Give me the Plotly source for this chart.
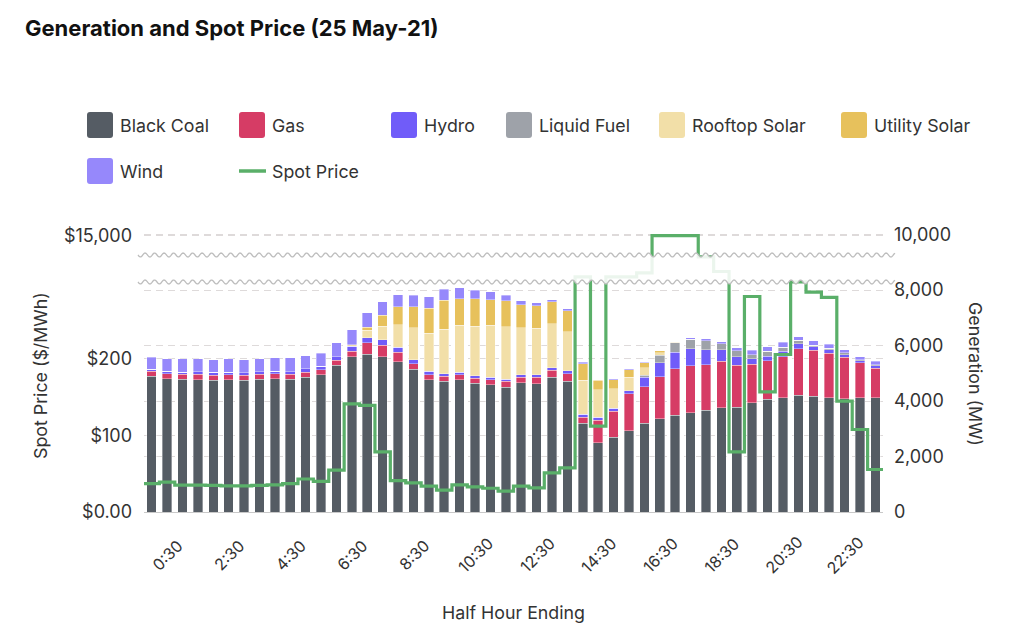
import math
import plotly.graph_objects as go

# ---------------- data ----------------
time_labels = ["0:30", "1:00", "1:30", "2:00", "2:30", "3:00", "3:30", "4:00", "4:30", "5:00",
               "5:30", "6:00", "6:30", "7:00", "7:30", "8:00", "8:30", "9:00", "9:30", "10:00",
               "10:30", "11:00", "11:30", "12:00", "12:30", "13:00", "13:30", "14:00", "14:30", "15:00",
               "15:30", "16:00", "16:30", "17:00", "17:30", "18:00", "18:30", "19:00", "19:30", "20:00",
               "20:30", "21:00", "21:30", "22:00", "22:30", "23:00", "23:30", "0:00"]

black_coal = [4890, 4800, 4790, 4775, 4750, 4775, 4750, 4785, 4810, 4785,
              4860, 4940, 5290, 5590, 5690, 5590, 5410, 5145, 4775, 4715,
              4775, 4640, 4580, 4500, 4665, 4630, 4860, 4715, 3190, 2505,
              2695, 2935, 3200, 3355, 3490, 3575, 3670, 3755, 3775, 3945,
              4065, 4115, 4210, 4175, 4115, 4090, 4115, 4115]
gas = [190, 190, 180, 190, 180, 180, 180, 180, 170, 180,
       180, 190, 180, 205, 410, 420, 350, 190, 170, 180,
       170, 180, 190, 205, 190, 230, 250, 265, 230, 795,
       935, 1320, 1310, 1525, 1670, 1695, 1635, 1670, 1515, 1380,
       1395, 1475, 1680, 1655, 1610, 1490, 1260, 1070]
hydro = [70, 85, 70, 95, 110, 85, 85, 85, 95, 85,
         120, 120, 120, 180, 180, 205, 180, 145, 120, 85,
         85, 85, 85, 85, 85, 85, 95, 110, 110, 120,
         110, 120, 350, 505, 600, 615, 550, 420, 300, 190,
         155, 205, 170, 130, 120, 95, 85, 95]
liquid_fuel = [0, 0, 0, 0, 0, 0, 0, 0, 0, 0,
               0, 0, 0, 0, 0, 0, 0, 0, 0, 0,
               0, 0, 0, 0, 0, 0, 0, 0, 0, 0,
               0, 0, 60, 265, 335, 335, 325, 215, 230, 155,
               170, 145, 130, 50, 50, 60, 35, 35]
rooftop_solar = [0, 0, 0, 0, 0, 0, 0, 0, 0, 0,
                 0, 0, 0, 60, 265, 480, 815, 1155, 1380, 1610,
                 1705, 1790, 1885, 1885, 1695, 1680, 1585, 1415, 1215, 985,
                 710, 480, 275, 85, 25, 0, 0, 0, 0, 0,
                 0, 0, 0, 0, 0, 0, 0, 0]
utility_solar = [0, 0, 0, 0, 0, 0, 0, 0, 0, 0,
                 0, 0, 0, 0, 120, 395, 635, 755, 900, 1045,
                 960, 995, 915, 935, 840, 815, 795, 745, 600, 335,
                 325, 275, 190, 85, 15, 0, 0, 0, 0, 0,
                 0, 0, 0, 0, 0, 0, 0, 0]
wind = [420, 445, 480, 455, 455, 480, 480, 480, 490, 515,
        480, 470, 515, 530, 515, 480, 445, 430, 410, 385,
        385, 310, 275, 205, 145, 95, 60, 70, 50, 25,
        25, 35, 15, 0, 0, 60, 60, 70, 95, 155,
        170, 180, 120, 155, 145, 120, 95, 120]

spot_price = [37, 39, 35, 35, 34.6, 34, 34, 34.6, 35.4, 37,
              43, 40, 54.5, 141, 139, 78.5, 41, 38, 33.7, 28.4,
              35.4, 32.8, 31, 27.1, 33.7, 31.5, 51, 57.6, 1900, 112,
              1900, 1900, 3200, 15000, 15000, 15000, 8250, 3600, 78.5, 281,
              156.7, 205.4, 300, 286.6, 280, 144.5, 107.6, 55.4]

series_names = ["Black Coal", "Gas", "Hydro", "Liquid Fuel", "Rooftop Solar", "Utility Solar", "Wind"]
series_values = [black_coal, gas, hydro, liquid_fuel, rooftop_solar, utility_solar, wind]
series_colors = ["#555c64", "#d63c65", "#705cf9", "#9ea2a9", "#f2dfa8", "#e7c15c", "#9688fb"]
price_name = "Spot Price"
price_color = "#5aaf69"

gen_ticks = [0, 2000, 4000, 6000, 8000, 10000]
price_ticks = [0, 100, 200, 15000]
price_tick_text = ["$0.00", "$100", "$200", "$15,000"]

# ---------------- broken price scale ----------------
GEN_MAX = 10200          # axis range (MW units) shared by both y axes
LOW_SCALE = 27.64        # axis units per $ in the low segment
BREAK_PRICE = 300        # price at the lower break
CAP_PRICE = 15000
T_BREAK = BREAK_PRICE * LOW_SCALE
T_CAP = 9964


def price_to_axis(p):
    if p <= BREAK_PRICE:
        return p * LOW_SCALE
    return T_BREAK + (p - BREAK_PRICE) / (CAP_PRICE - BREAK_PRICE) * (T_CAP - T_BREAK)


# ---------------- geometry (pixels; page has an 8px body margin) ----------------
OFF = 8
W, H = 1016, 634
ML, MR, MT, MB = 136, 141, 221, 130
PW, PH = W - ML - MR, H - MT - MB


def px(x):
    """screen x (reference pixels) -> paper fraction"""
    return (x - OFF - ML) / PW


def py(y):
    """screen y (reference pixels) -> paper fraction"""
    return (H - MB - (y - OFF)) / PH


FONT = "Inter"
TXT = "#333333"
FS = 17.8

fig = go.Figure()
n = len(time_labels)
xs = list(range(n))

for name, vals, col in zip(series_names, series_values, series_colors):
    fig.add_trace(go.Bar(
        x=xs, y=vals, name=name, marker_color=col,
        marker_line_color="rgba(255,255,255,0.45)", marker_line_width=0.8,
        yaxis="y", showlegend=False,
    ))

# step line: each price spans its whole half-hour slot
step_x = [i - 0.5 for i in xs] + [xs[-1] + 0.5]
step_y = [price_to_axis(p) for p in spot_price] + [price_to_axis(spot_price[-1])]
fig.add_trace(go.Scatter(
    x=step_x, y=step_y, mode="lines", line_shape="hv",
    line=dict(color=price_color, width=3.2), name=price_name,
    yaxis="y2", showlegend=False,
))

# ---------------- broken-axis band (wavy lines) ----------------
def wave(y0, x_start=138, x_end=895, amp=2.0, period=9.5):
    pts = []
    x = x_start
    while x <= x_end:
        pts.append((x, y0 + amp * math.sin(2 * math.pi * (x - x_start) / period)))
        x += 1
    return pts

upper = wave(255)
lower = wave(282)
band = upper + lower[::-1]
band_path = "M " + " L ".join(f"{px(a):.5f},{py(b):.5f}" for a, b in band) + " Z"
shapes = [dict(type="path", xref="paper", yref="paper", path=band_path,
               fillcolor="rgba(255,255,255,0.88)", line=dict(width=0), layer="above")]
for w in (upper, lower):
    p = "M " + " L ".join(f"{px(a):.5f},{py(b):.5f}" for a, b in w)
    shapes.append(dict(type="path", xref="paper", yref="paper", path=p,
                       line=dict(color="#bdbdbd", width=1.3), layer="above"))

# ---------------- custom legend ----------------
def rounded_square(h=13, r=3):
    return (f"M {-h + r},{-h} L {h - r},{-h} Q {h},{-h} {h},{-h + r} L {h},{h - r} "
            f"Q {h},{h} {h - r},{h} L {-h + r},{h} Q {-h},{h} {-h},{h - r} "
            f"L {-h},{-h + r} Q {-h},{-h} {-h + r},{-h} Z")

legend_slots = [(87, 125), (239, 125), (391, 125), (506, 125), (659, 125), (841, 125), (87, 171)]
annotations = []
for (sx, sy), name, col in zip(legend_slots, series_names, series_colors):
    shapes.append(dict(type="path", xref="paper", yref="paper",
                       xsizemode="pixel", ysizemode="pixel",
                       xanchor=px(sx + 13), yanchor=py(sy),
                       path=rounded_square(), fillcolor=col, line=dict(width=0)))
    annotations.append(dict(text=name, xref="paper", yref="paper", x=px(sx + 31), y=py(sy),
                            xanchor="left", yanchor="middle", showarrow=False,
                            font=dict(family=FONT, size=FS, color=TXT)))
# spot price legend entry
shapes.append(dict(type="line", xref="paper", yref="paper",
                   x0=px(239), x1=px(266), y0=py(171), y1=py(171),
                   line=dict(color=price_color, width=3.5)))
annotations.append(dict(text=price_name, xref="paper", yref="paper", x=px(270), y=py(171),
                        xanchor="left", yanchor="middle", showarrow=False,
                        font=dict(family=FONT, size=FS, color=TXT)))

# axis titles
annotations.append(dict(text="Spot Price ($/MWh)", xref="paper", yref="paper",
                        x=px(40), y=py(376), textangle=-90, showarrow=False,
                        xanchor="center", yanchor="middle",
                        font=dict(family=FONT, size=FS, color=TXT)))
annotations.append(dict(text="Generation (MW)", xref="paper", yref="paper",
                        x=px(976), y=py(374), textangle=90, showarrow=False,
                        xanchor="center", yanchor="middle",
                        font=dict(family=FONT, size=FS, color=TXT)))
annotations.append(dict(text="Half Hour Ending", xref="paper", yref="paper",
                        x=px(513), y=py(612), showarrow=False,
                        xanchor="center", yanchor="middle",
                        font=dict(family=FONT, size=FS, color=TXT)))

# x tick labels, rotated about their centre
for i in xs[::4]:
    annotations.append(dict(text=time_labels[i], xref="x", yref="paper", x=i, y=py(555),
                            xshift=16, textangle=-45, showarrow=False,
                            xanchor="center", yanchor="middle",
                            font=dict(family=FONT, size=16, color=TXT)))

grid = dict(gridcolor="#dedada", griddash="7px,5px", gridwidth=1)

fig.update_layout(
    width=W, height=H,
    margin=dict(l=ML, r=MR, t=MT, b=MB),
    paper_bgcolor="white", plot_bgcolor="white",
    barmode="stack", bargap=0.38,
    font=dict(family=FONT, color=TXT),
    title=dict(text="<b>Generation and Spot Price (25 May-21)</b>",
               xref="container", yref="container", x=(25 - OFF) / W, xanchor="left",
               y=1 - (28 - OFF) / H, yanchor="middle",
               font=dict(family=FONT, size=22, color="#111111")),
    xaxis=dict(range=[-0.5, n - 0.5], showticklabels=False, showgrid=False,
               showline=True, linecolor="#c9c9c9", linewidth=1, ticks="",
               zeroline=False, fixedrange=True),
    yaxis=dict(side="right", range=[0, GEN_MAX], tickvals=gen_ticks,
               ticktext=[f"{v:,}" for v in gen_ticks],
               tickfont=dict(size=18, color=TXT), zeroline=False,
               ticklabelstandoff=10, **grid),
    yaxis2=dict(side="left", overlaying="y", range=[0, GEN_MAX],
                tickvals=[price_to_axis(p) for p in price_ticks], ticktext=price_tick_text,
                tickfont=dict(size=18, color=TXT), zeroline=False,
                ticklabelstandoff=11, **grid),
    shapes=shapes,
    annotations=annotations,
)

fig.write_html("out.html")
